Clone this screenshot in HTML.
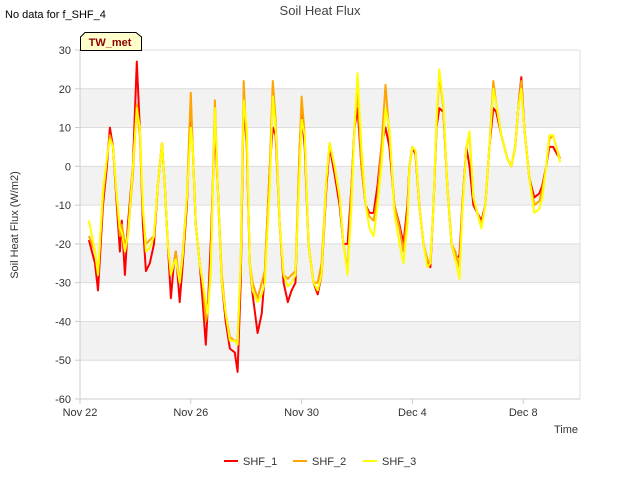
<!DOCTYPE html>
<html><head><meta charset="utf-8"><style>
body{margin:0;background:#fff}
svg text{font-family:"Liberation Sans","DejaVu Sans",sans-serif}
</style></head><body>
<svg id="chart" width="640" height="480" xmlns="http://www.w3.org/2000/svg">
<rect width="640" height="480" fill="#fff"/>
<text x="5" y="18" font-size="11" fill="#000">No data for f_SHF_4</text>
<text x="320" y="15" font-size="13" fill="#444" text-anchor="middle">Soil Heat Flux</text>
<g id="bands"></g>
<g id="grid"></g>
<g id="series"></g>
<g id="axes"></g>
<g>
<path d="M80.5,50.5 V37 L85,32.5 H136 L141.5,37 V50.5 Z" fill="#ffffcc" stroke="#000" stroke-width="1"/>
<text x="110" y="46" font-size="11" font-weight="bold" fill="#8b0000" text-anchor="middle">TW_met</text>
</g>
<text transform="translate(18,225) rotate(-90)" font-size="11" fill="#333" text-anchor="middle">Soil Heat Flux (W/m2)</text>
<text x="578" y="433" font-size="11" fill="#333" text-anchor="end">Time</text>
<g>
<g><line x1="224" y1="461" x2="238" y2="461" stroke="#ff0000" stroke-width="2"/><text x="243" y="465" font-size="11" fill="#333">SHF_1</text></g>
<g><line x1="293" y1="461" x2="307" y2="461" stroke="#ffa500" stroke-width="2"/><text x="312" y="465" font-size="11" fill="#333">SHF_2</text></g>
<g><line x1="363" y1="461" x2="377" y2="461" stroke="#ffff00" stroke-width="2"/><text x="382" y="465" font-size="11" fill="#333">SHF_3</text></g>
</g>
</svg>
<script>
const days=[0.32,0.54,0.65,0.83,0.97,1.08,1.19,1.33,1.44,1.51,1.62,1.73,1.91,2.05,2.16,2.27,2.38,2.52,2.67,2.81,2.96,3.06,3.17,3.28,3.39,3.46,3.60,3.71,3.86,4.00,4.07,4.18,4.32,4.43,4.54,4.61,4.72,4.87,4.97,5.12,5.26,5.41,5.59,5.69,5.80,5.91,6.02,6.13,6.23,6.41,6.56,6.67,6.85,6.96,7.06,7.21,7.35,7.50,7.64,7.78,7.93,8.00,8.11,8.25,8.43,8.58,8.72,8.90,9.01,9.19,9.37,9.51,9.66,9.80,9.91,10.02,10.16,10.31,10.45,10.60,10.74,10.88,11.03,11.17,11.35,11.53,11.68,11.82,11.89,12.00,12.11,12.25,12.40,12.54,12.65,12.76,12.87,12.97,13.12,13.26,13.41,13.55,13.70,13.80,13.95,14.06,14.20,14.34,14.49,14.63,14.78,14.92,15.03,15.21,15.43,15.57,15.71,15.82,15.93,16.04,16.22,16.40,16.58,16.69,16.83,16.94,17.08,17.23,17.33];
const shf1=[-19,-25,-32,-10,0,10,5,-10,-22,-14,-28,-15,0,27,10,-15,-27,-25,-20,-5,6,-5,-20,-34,-25,-22,-35,-25,-10,15,5,-15,-25,-35,-46,-37,-20,10,-5,-30,-40,-47,-48,-53,-30,17,5,-25,-33,-43,-38,-28,0,10,8,-15,-30,-35,-32,-30,5,14,5,-20,-30,-33,-28,-5,5,-2,-10,-20,-20,-5,10,15,0,-10,-12,-12,-5,5,10,5,-10,-15,-20,-10,0,5,3,-10,-20,-25,-26,-10,10,15,14,-5,-20,-24,-23,-10,5,0,-10,-12,-14,-10,5,15,14,8,2,0,5,15,23,10,-3,-8,-7,-5,0,5,5,3,2];
const shf2=[-18,-22,-28,-8,2,8,5,-8,-18,-15,-20,-18,-2,16,8,-12,-20,-19,-18,-5,6,-5,-20,-28,-25,-22,-30,-22,-8,19,5,-15,-25,-30,-40,-38,-25,17,-5,-28,-38,-44,-45,-45,-25,22,5,-25,-30,-34,-30,-27,0,22,12,-15,-28,-29,-28,-27,5,18,8,-20,-30,-30,-25,-3,6,0,-8,-20,-27,-5,10,20,0,-10,-13,-14,-8,5,21,8,-10,-16,-22,-12,0,5,4,-10,-20,-24,-25,-10,10,24,15,-5,-20,-22,-26,-10,5,8,-8,-12,-15,-10,5,22,16,8,2,0,5,15,22,10,-3,-10,-9,-6,0,7,8,4,2];
const shf3=[-14,-22,-28,-6,2,7,5,-8,-16,-17,-22,-18,0,15,10,-10,-22,-21,-18,-5,6,-5,-20,-28,-25,-24,-30,-23,-8,10,5,-15,-25,-30,-35,-38,-28,15,-5,-30,-38,-45,-45,-46,-25,17,10,-25,-32,-35,-33,-30,-5,18,10,-15,-28,-31,-30,-28,0,12,8,-20,-30,-32,-28,-3,6,0,-8,-20,-28,-10,10,24,5,-10,-16,-18,-10,0,15,10,-12,-20,-25,-15,0,5,4,-10,-20,-26,-25,-10,12,25,16,-5,-20,-24,-29,-12,5,9,-8,-12,-16,-10,5,20,16,8,2,0,5,15,20,10,-3,-12,-11,-8,0,8,8,4,1];
const yTicks=[30,20,10,0,-10,-20,-30,-40,-50,-60];
const xTickDays=[0,4,8,12,16];
const xTickLabels=["Nov 22","Nov 26","Nov 30","Dec 4","Dec 8"];
const seriesNames=["SHF_1","SHF_2","SHF_3"];
const NS="http://www.w3.org/2000/svg";
const L=80,R=580,T=50,B=399,yMin=-60,yMax=30,dMax=18.05;
function xs(d){return L+d/dMax*(R-L);}
function ys(v){return B-(v-yMin)/(yMax-yMin)*(B-T);}
function mk(tag,attrs,parent){const e=document.createElementNS(NS,tag);for(const k in attrs)e.setAttribute(k,attrs[k]);parent.appendChild(e);return e;}
const bands=document.getElementById('bands'),grid=document.getElementById('grid'),axes=document.getElementById('axes'),ser=document.getElementById('series');
mk('rect',{x:L,y:T,width:R-L,height:B-T,fill:'#fff'},bands);
for(let v=yMin;v<yMax;v+=10){
  if(((v%20)+20)%20===10){const r=mk('rect',{x:L,y:ys(v+10),width:R-L,height:ys(v)-ys(v+10),fill:'#f2f2f2'},bands);
  
  }
}
yTicks.forEach(v=>{
  const g=mk('line',{x1:L,x2:R,y1:ys(v),y2:ys(v),stroke:'#dcdcdc','stroke-width':1},grid);
  
  
  const t=mk('text',{x:L-9,y:ys(v)+4,'font-size':11,fill:'#333','text-anchor':'end'},axes);
  
  
  t.textContent=v;
  mk('line',{x1:L-5,x2:L,y1:ys(v),y2:ys(v),stroke:'#ccc'},axes);
});
mk('line',{x1:R,x2:R,y1:T,y2:B,stroke:'#dcdcdc'},grid);
mk('line',{x1:L,x2:L,y1:T,y2:B+5,stroke:'#ccc'},axes);
mk('line',{x1:L,x2:R,y1:B,y2:B,stroke:'#ccc'},axes);
xTickDays.forEach((d,i)=>{
  mk('line',{x1:xs(d),x2:xs(d),y1:B,y2:B+5,stroke:'#ccc'},axes);
  const t=mk('text',{x:xs(d),y:B+17,'font-size':11,fill:'#333','text-anchor':'middle'},axes);
  
  
  t.textContent=xTickLabels[i];
});
const colors=['#ff0000','#ffa500','#ffff00'];
[shf1,shf2,shf3].forEach((vals,k)=>{
  const pts=days.map((d,i)=>xs(d).toFixed(1)+','+ys(vals[i]).toFixed(1)).join(' ');
  const p=mk('polyline',{points:pts,fill:'none',stroke:colors[k],'stroke-width':2,'stroke-linejoin':'round'},ser);
  
  
});
</script>
</body></html>
